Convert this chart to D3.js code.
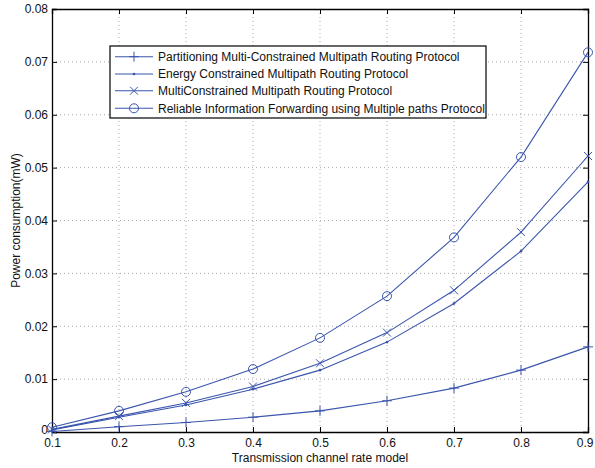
<!DOCTYPE html>
<html><head><meta charset="utf-8">
<script src="https://cdn.jsdelivr.net/npm/d3@7"></script>
<style>body{margin:0;background:#fff}svg{display:block}text{font-family:"Liberation Sans",Arial,sans-serif}</style>
</head><body><svg id="c" width="595" height="468"></svg>
<script>
const xValues = [0.1,0.2,0.3,0.4,0.5,0.6,0.7,0.8,0.9];
const seriesNames = [
  "Partitioning Multi-Constrained Multipath Routing Protocol",
  "Energy Constrained Multipath Routing Protocol",
  "MultiConstrained Multipath Routing Protocol",
  "Reliable Information Forwarding using Multiple paths Protocol"
];
const pmcmp = [0.0001,0.0010,0.0018,0.0028,0.0040,0.0059,0.0083,0.0117,0.0161];
const ecmp  = [0.0004,0.0028,0.0051,0.0081,0.0117,0.0170,0.0243,0.0342,0.0473];
const mcmp  = [0.0005,0.0030,0.0055,0.0086,0.0130,0.0188,0.0268,0.0378,0.0522];
const rifm  = [0.0009,0.0040,0.0076,0.0119,0.0178,0.0257,0.0368,0.0520,0.0718];
const markers = ["plus","dot","x","circle"];
const xTicks = [0.1,0.2,0.3,0.4,0.5,0.6,0.7,0.8,0.9];
const yTicks = [0,0.01,0.02,0.03,0.04,0.05,0.06,0.07,0.08];
const xLabel = "Transmission channel rate model";
const yLabel = "Power consumption(mW)";

const svg = d3.select("#c");
const L=52,R=588,T=9,B=432;
const color="#3a55ad";
const FS=12;
const x = d3.scaleLinear().domain([0.1,0.9]).range([L,R]);
const y = d3.scaleLinear().domain([0,0.08]).range([B,T]);
const fmt = d => d===0?"0":d3.format(".2f")(d);

// grid
const g = svg.append("g");
g.selectAll(".gx").data(xTicks.slice(1,-1)).enter().append("line")
 .attr("x1",d=>x(d)).attr("x2",d=>x(d)).attr("y1",T).attr("y2",B)
 .attr("stroke","#aaa").attr("stroke-width",1).attr("stroke-dasharray","1,3");
g.selectAll(".gy").data(yTicks.slice(1,-1)).enter().append("line")
 .attr("y1",d=>y(d)).attr("y2",d=>y(d)).attr("x1",L).attr("x2",R)
 .attr("stroke","#aaa").attr("stroke-width",1).attr("stroke-dasharray","1,3");

// axes
const ax = svg.append("g").attr("transform",`translate(0,${B})`)
 .call(d3.axisBottom(x).tickValues(xTicks).tickSize(-5).tickPadding(8).tickFormat(d3.format(".1f")));
const ay = svg.append("g").attr("transform",`translate(${L},0)`)
 .call(d3.axisLeft(y).tickValues(yTicks).tickSize(-5).tickPadding(4).tickFormat(fmt));
const at = svg.append("g").attr("transform",`translate(0,${T})`)
 .call(d3.axisTop(x).tickValues(xTicks).tickSize(-5).tickFormat(""));
const ar = svg.append("g").attr("transform",`translate(${R},0)`)
 .call(d3.axisRight(y).tickValues(yTicks).tickSize(-5).tickFormat(""));
[ax,ay,at,ar].forEach(a=>{
  a.select(".domain").attr("stroke","#000").attr("stroke-width",1.3);
  a.selectAll(".tick line").attr("stroke","#000");
  a.selectAll("text").attr("font-size",FS).attr("fill","#111").style("font-family","'Liberation Sans',Arial,sans-serif");
});
ax.selectAll(".tick text").attr("dy","0.6em");
ax.selectAll(".tick text").filter(d=>d===0.9).attr("text-anchor","end").attr("dx",5);
ay.selectAll(".tick text").filter(d=>d===0).attr("dy","0.1em");

svg.append("text").attr("x",(L+R)/2).attr("y",462).attr("text-anchor","middle")
 .attr("font-size",FS).attr("fill","#111").text(xLabel);
svg.append("text").attr("transform",`translate(20,${(T+B)/2}) rotate(-90)`).attr("text-anchor","middle")
 .attr("font-size",FS).attr("fill","#111").text(yLabel);

function drawMarker(sel, type, cx, cy){
  if(type==="plus"){
    sel.append("path").attr("d",`M${cx-5},${cy}H${cx+5}M${cx},${cy-5}V${cy+5}`).attr("stroke",color).attr("fill","none");
  } else if(type==="dot"){
    sel.append("circle").attr("cx",cx).attr("cy",cy).attr("r",1.3).attr("fill",color);
  } else if(type==="x"){
    sel.append("path").attr("d",`M${cx-4},${cy-4}L${cx+4},${cy+4}M${cx-4},${cy+4}L${cx+4},${cy-4}`).attr("stroke",color).attr("fill","none");
  } else {
    sel.append("circle").attr("cx",cx).attr("cy",cy).attr("r",4.5).attr("fill","none").attr("stroke",color);
  }
}

const all = [pmcmp,ecmp,mcmp,rifm];
const line = d3.line().x((d,i)=>x(xValues[i])).y(d=>y(d));
all.forEach((s,k)=>{
  const gs = svg.append("g");
  gs.append("path").attr("d",line(s)).attr("fill","none").attr("stroke",color).attr("stroke-width",1.1);
  s.forEach((v,i)=>drawMarker(gs,markers[k],x(xValues[i]),y(v)));
});

// legend
const lg = svg.append("g");
lg.append("rect").attr("x",110).attr("y",46).attr("width",376).attr("height",72)
 .attr("fill","#fff").attr("stroke","#000").attr("stroke-width",1.2);
const rows=[56.7,74,90.7,108.3];
seriesNames.forEach((n,k)=>{
  lg.append("line").attr("x1",115).attr("x2",153).attr("y1",rows[k]).attr("y2",rows[k]).attr("stroke",color).attr("stroke-width",1.1);
  drawMarker(lg,markers[k],134,rows[k]);
  lg.append("text").attr("x",158).attr("y",rows[k]).attr("dy","0.35em").attr("font-size",FS).attr("fill","#111").text(n);
});
</script></body></html>
